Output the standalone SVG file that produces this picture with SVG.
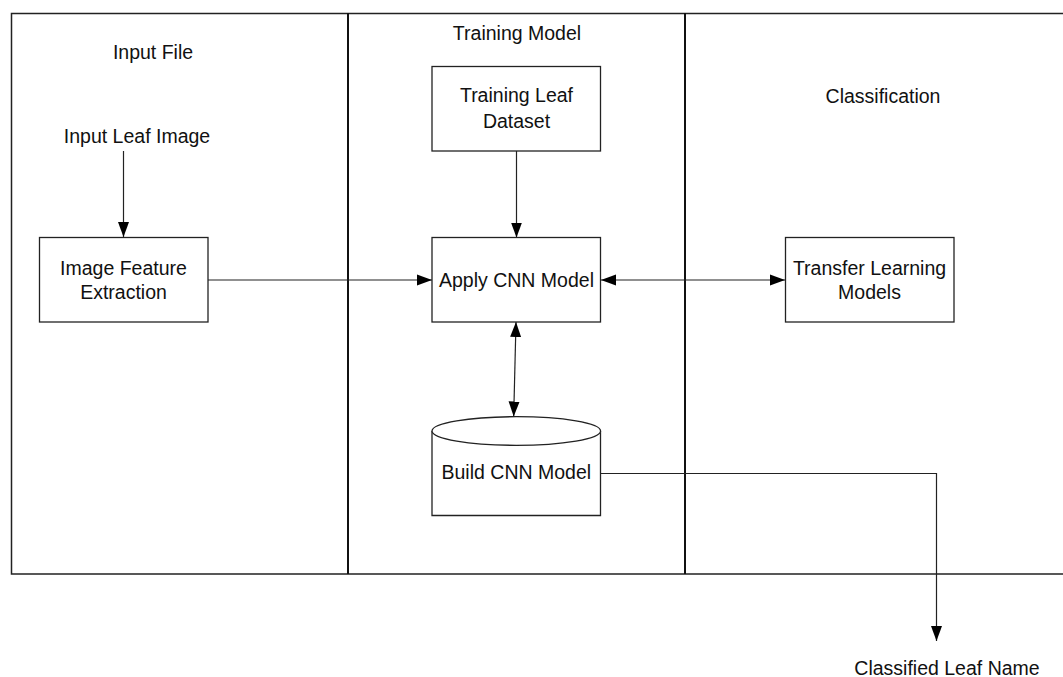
<svg xmlns="http://www.w3.org/2000/svg" width="1063" height="677" viewBox="0 0 1063 677">
  <style>
    text { font-family: "Liberation Sans", Arial, sans-serif; font-size: 19.5px; fill: #111; text-anchor: middle; }
    .box { fill: #fff; stroke: #222; stroke-width: 1.3; }
    .frame { fill: none; stroke: #222; stroke-width: 1.5; }
    .divider { stroke: #111; stroke-width: 2; }
    .link { fill: none; stroke: #222; stroke-width: 1.2; }
  </style>
  <defs>
    <marker id="arrow" viewBox="0 0 15 12" refX="15" refY="6" markerWidth="15" markerHeight="12" markerUnits="userSpaceOnUse" orient="auto-start-reverse">
      <path d="M0,0.5 L15,6 L0,11.5 Z" fill="#000"/>
    </marker>
  </defs>
  <rect width="1063" height="677" fill="#fff"/>

  <!-- swimlane frame -->
  <g id="lanes">
    <path class="frame" d="M1063,13.5 H11.5 V574 H1063"/>
    <line class="divider" x1="348" y1="13" x2="348" y2="574"/>
    <line class="divider" x1="685" y1="13" x2="685" y2="574"/>
    <text x="153" y="59">Input File</text>
    <text x="517" y="40">Training Model</text>
    <text x="883" y="103">Classification</text>
  </g>

  <!-- connectors -->
  <g id="connectors">
    <line class="link" x1="123.5" y1="151" x2="123.5" y2="237" marker-end="url(#arrow)"/>
    <line class="link" x1="208" y1="280" x2="432" y2="280" marker-end="url(#arrow)"/>
    <line class="link" x1="516.5" y1="151" x2="516.5" y2="237.5" marker-end="url(#arrow)"/>
    <line class="link" x1="601" y1="280" x2="785" y2="280" marker-start="url(#arrow)" marker-end="url(#arrow)"/>
    <line class="link" x1="516" y1="322" x2="513.7" y2="416.5" marker-start="url(#arrow)" marker-end="url(#arrow)"/>
    <polyline class="link" points="601,473.5 936.5,473.5 936.5,641" marker-end="url(#arrow)"/>
  </g>

  <g id="input-leaf-image">
    <text x="137" y="143">Input Leaf Image</text>
  </g>

  <g id="image-feature-extraction">
    <rect class="box" x="39.5" y="237.5" width="168.5" height="84.5"/>
    <text x="123.5" y="275">Image Feature</text>
    <text x="123.5" y="298.5">Extraction</text>
  </g>

  <g id="training-leaf-dataset">
    <rect class="box" x="432" y="66.5" width="168.5" height="84.5"/>
    <text x="516.5" y="102">Training Leaf</text>
    <text x="516.5" y="128">Dataset</text>
  </g>

  <g id="apply-cnn-model">
    <rect class="box" x="432" y="237.5" width="168.5" height="84.5"/>
    <text x="516.5" y="287">Apply CNN Model</text>
  </g>

  <g id="transfer-learning-models">
    <rect class="box" x="785.5" y="237.5" width="168.5" height="84.5"/>
    <text x="869.5" y="275">Transfer Learning</text>
    <text x="869.5" y="298.5">Models</text>
  </g>

  <g id="build-cnn-model">
    <path class="box" d="M432,431 V515.5 H600.5 V431"/>
    <ellipse class="box" cx="516.3" cy="431" rx="84.3" ry="14.3"/>
    <text x="516.3" y="479">Build CNN Model</text>
  </g>

  <g id="classified-leaf-name">
    <text x="947" y="675">Classified Leaf Name</text>
  </g>
</svg>
